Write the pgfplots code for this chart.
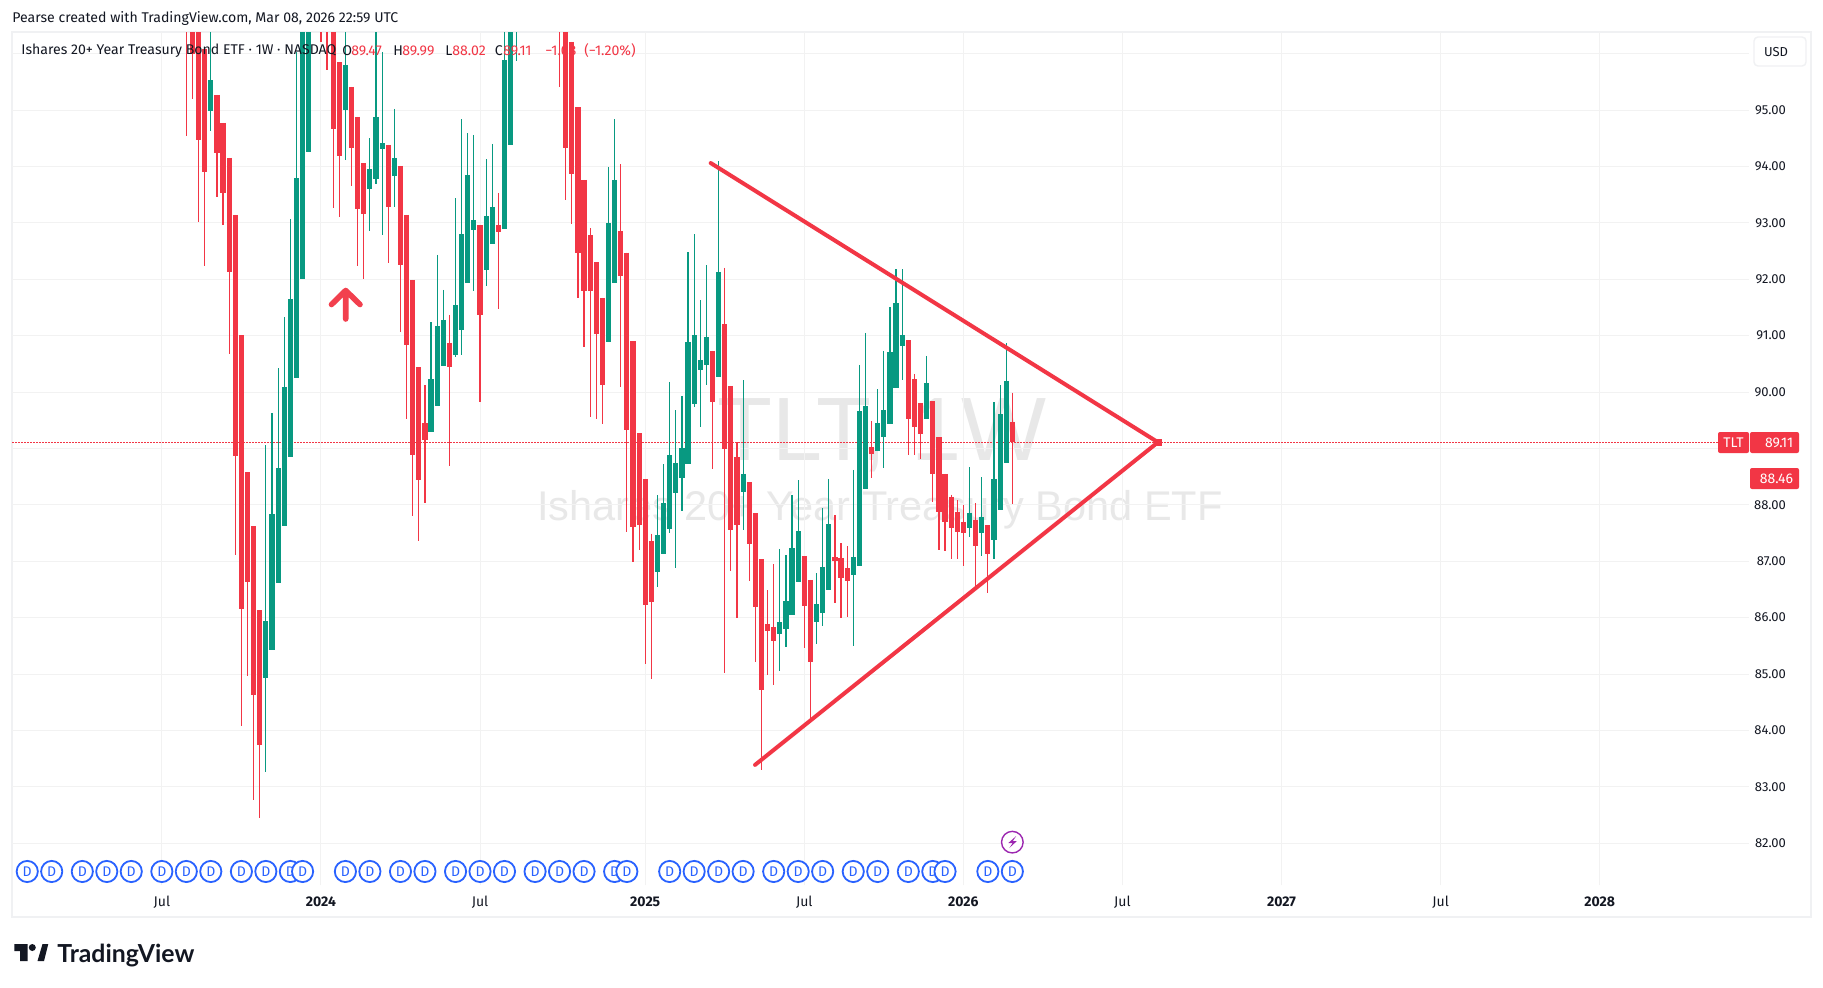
\documentclass[border=0pt]{standalone}
\usepackage{pgfplots}
\usepackage{pgfplotstable}
\pgfplotsset{compat=1.18}
\usepackage{fontspec}
\setmainfont{Fira Sans}
\newfontfamily\wmfont{Liberation Sans}
\newfontfamily\logofont{Lato}
\definecolor{tvred}{HTML}{F23645}
\definecolor{tvgreen}{HTML}{089981}
\definecolor{tvgrid}{HTML}{F2F2F2}
\definecolor{tvtext}{HTML}{131722}
\definecolor{tvblue}{HTML}{2962FF}
\definecolor{tvpurple}{HTML}{9C27B0}
\definecolor{tvwm}{HTML}{E8E8E8}
\definecolor{tvborder}{HTML}{F0F1F3}

% columns: week index, body top, body bottom, high, low
\pgfplotstableread{
i top bot high low
0 97.2 96.6 98 94.54
1 97.2 96.00 98 95.20
2 97.2 94.47 97.5 93.01
3 96.09 93.90 96.09 92.24
5 95.27 94.24 95.27 93.46
6 94.77 93.53 94.77 92.96
7 94.15 92.13 94.15 90.68
8 93.14 88.87 93.14 87.11
9 91.01 86.15 91.01 84.08
10 88.58 86.63 88.58 84.97
11 87.62 84.63 87.62 82.77
12 86.13 83.74 86.13 82.45
22 97.5 97 98 96.21
23 97.5 97 98 95.71
24 97.5 94.66 98 93.26
25 95.85 94.18 95.85 93.11
27 95.41 94.33 95.41 93.65
28 94.88 93.24 94.88 92.24
29 94.06 93.16 94.06 92.00
33 94.38 93.28 94.38 92.29
35 94.01 92.25 94.01 91.06
36 93.14 90.83 93.14 89.52
37 91.99 88.88 91.99 87.80
38 90.44 88.44 90.44 87.36
39 89.45 89.15 90.12 88.03
43 90.87 90.44 91.37 88.69
48 92.96 91.36 92.96 89.82
51 92.96 92.84 93.53 91.47
61 97.5 97 98 95.40
62 97.5 94.33 98 93.40
63 96.21 93.87 96.21 92.98
64 95.05 92.47 95.05 91.67
65 93.76 91.79 93.76 90.80
66 92.78 91.79 92.90 89.56
67 92.30 91.03 92.30 89.52
68 91.67 90.12 91.67 89.43
71 92.85 92.06 94.04 90.09
72 92.47 89.33 92.47 87.52
73 90.90 87.61 90.90 86.99
74 89.27 87.64 89.27 87.20
75 88.46 86.22 88.46 85.18
76 87.36 86.28 87.49 84.91
86 90.73 89.82 90.73 88.63
88 91.20 88.99 92.20 85.02
89 90.11 87.55 90.11 86.83
90 88.85 87.64 89.11 85.99
92 88.40 87.30 88.40 86.65
93 87.85 86.19 87.85 85.21
94 87.04 84.72 87.04 83.30
95 85.89 85.76 86.49 84.98
96 85.83 85.59 86.95 84.80
101 87.09 86.20 87.09 85.46
102 86.67 85.21 86.67 84.18
106 87.07 87.00 87.82 86.26
107 87.06 86.70 87.32 85.99
108 86.88 86.65 87.27 86.01
112 89.02 88.90 89.49 88.47
118 90.92 89.52 90.92 88.88
119 90.23 89.38 90.32 88.88
120 89.81 89.26 89.81 88.81
122 89.84 88.55 89.84 88.05
123 89.20 87.87 89.20 87.20
124 88.55 87.70 88.55 87.18
125 88.14 87.59 88.18 87.04
126 87.87 87.52 88.09 87.04
127 87.70 87.50 88.00 86.92
129 87.73 87.27 88.03 86.54
131 87.64 87.13 87.64 86.44
135 89.47 89.11 89.99 88.02
}\redbars

\pgfplotstableread{
i top bot high low
4 95.53 94.99 97 94.63
13 85.94 84.93 89.06 83.26
14 87.84 85.43 89.63 85.43
15 88.65 86.61 90.42 86.61
16 90.09 87.62 91.33 87.62
17 91.65 88.85 93.07 88.85
18 93.79 90.25 96.03 90.25
19 97.5 92.00 98 92.00
20 97.5 94.25 98 94.25
26 95.80 95.00 97 94.11
30 93.95 93.60 94.50 92.86
31 94.88 93.78 97 93.69
32 94.41 94.31 96.03 92.78
34 94.15 93.83 95.02 93.28
40 90.23 89.29 91.24 89.29
41 91.17 89.75 92.43 89.75
42 91.28 90.46 91.81 90.46
44 91.54 90.66 93.44 90.62
45 92.80 91.10 94.84 90.66
46 93.85 91.93 94.59 91.93
47 93.05 92.87 94.56 91.79
49 93.12 92.16 94.13 91.88
50 93.28 92.62 94.40 92.62
52 95.89 92.89 97 92.89
53 97.5 94.38 98 94.38
54 97.5 97 98 95.87
69 92.99 90.89 93.99 90.89
70 93.76 91.93 94.84 91.93
77 87.46 86.81 88.17 86.54
78 88.03 87.13 88.72 87.13
79 88.88 87.57 90.18 87.50
80 88.74 88.21 89.68 86.88
81 89.01 88.47 89.93 87.89
82 90.89 88.72 92.48 88.72
83 91.01 89.79 92.80 89.73
84 90.57 90.39 91.63 89.38
85 90.98 90.48 92.25 90.12
87 92.13 90.27 94.10 90.27
91 88.55 88.23 90.21 87.55
97 85.92 85.71 87.22 85.05
98 86.29 85.80 87.11 85.48
99 87.23 86.05 88.17 86.05
100 87.53 86.63 88.44 86.63
103 86.24 85.92 86.79 85.53
104 86.90 86.08 87.94 85.85
105 87.66 86.49 88.46 86.49
109 87.07 86.76 88.62 85.50
110 89.66 86.91 90.48 86.91
111 89.75 88.28 91.05 88.28
113 89.45 88.95 90.05 88.95
114 89.68 89.20 90.73 88.65
115 90.71 89.43 91.51 89.43
116 91.58 90.07 92.18 90.07
117 91.01 90.82 92.18 90.21
121 90.16 89.52 90.64 89.52
128 87.86 87.59 88.67 87.43
130 87.78 87.50 88.49 87.09
132 88.46 87.38 89.82 87.04
133 89.61 87.91 90.12 87.91
134 90.20 88.74 90.87 88.74
}\greenbars

\pgfplotstableread{
i p
-26 81.5
-22 81.5
-17 81.5
-13 81.5
-9 81.5
-4 81.5
0 81.5
4 81.5
9 81.5
13 81.5
17 81.5
19 81.5
26 81.5
30 81.5
35 81.5
39 81.5
44 81.5
48 81.5
52 81.5
57 81.5
61 81.5
65 81.5
70 81.5
72 81.5
79 81.5
83 81.5
87 81.5
91 81.5
96 81.5
100 81.5
104 81.5
109 81.5
113 81.5
118 81.5
122 81.5
124 81.5
131 81.5
135 81.5
}\divs

\pgfplotsset{
  wick/.style={draw=none, no markers, forget plot,
    error bars/.cd, y dir=both, y explicit, error mark=none,
    error bar style={solid, draw=#1, line width=0.6pt}},
  body/.style={draw=none, no markers, forget plot,
    error bars/.cd, y dir=both, y explicit, error mark=none,
    error bar style={solid, draw=#1, line width=2.6pt}},
}
\tikzset{px/.style={x=0.5pt,y=-0.5pt}}
\begin{document}
\begin{tikzpicture}
\path[use as bounding box, fill=white] (0pt,0pt) rectangle (911.5pt,-493.5pt);
\begin{scope}[px]
  \draw[tvborder, line width=1pt] (12,32) rectangle (1811,917);
  \node[text=tvwm, font=\wmfont\fontsize{45pt}{50pt}\selectfont, anchor=center] at (882,435) {TLT, 1W};
  \node[text=tvwm, font=\wmfont\fontsize{20.75pt}{24pt}\selectfont, anchor=center] at (880,510) {Ishares 20+ Year Treasury Bond ETF};
\end{scope}
\begin{axis}[
  at={(6pt,-442.5pt)}, anchor=south west,
  scale only axis, width=868.5pt, height=426.5pt,
  xmin=-28.49, xmax=255.4, ymin=81.26, ymax=96.383,
  axis line style={draw=none},
  major tick length=0pt,
  grid=major,
  grid style={tvgrid, line width=0.5pt},
  xtick={-4,22,48,75,101,127,153,179,205,231},
  xticklabels={Jul,\textbf{2024},Jul,\textbf{2025},Jul,\textbf{2026},Jul,\textbf{2027},Jul,\textbf{2028}},
  xticklabel style={font=\fontsize{7pt}{8pt}\selectfont, text=tvtext, anchor=center, yshift=-8.5pt},
  ytick={82,83,84,85,86,87,88,89,90,91,92,93,94,95,96},
  yticklabels={82.00,83.00,84.00,85.00,86.00,87.00,88.00,{},90.00,91.00,92.00,93.00,94.00,95.00,{}},
  yticklabel pos=right,
  yticklabel style={font=\fontsize{6.5pt}{7pt}\selectfont, text=tvtext, anchor=east, xshift=22pt},
  clip=true,
]
\addplot[tvred, line width=0.5pt, dash pattern=on 1pt off 0.5pt, forget plot] coordinates {(-28.49,89.11) (250.3,89.11)};
\addplot[wick=tvgreen] table[x=i, y=high, y error plus expr=0, y error minus expr=\thisrow{high}-\thisrow{low}] {\greenbars};
\addplot[body=tvgreen] table[x=i, y=top, y error plus expr=0, y error minus expr=\thisrow{top}-\thisrow{bot}] {\greenbars};
\addplot[wick=tvred] table[x=i, y=high, y error plus expr=0, y error minus expr=\thisrow{high}-\thisrow{low}] {\redbars};
\addplot[body=tvred] table[x=i, y=top, y error plus expr=0, y error minus expr=\thisrow{top}-\thisrow{bot}] {\redbars};
% trend lines
\addplot[tvred, line width=2pt, line cap=round, forget plot] coordinates {(85.7,94.06) (158.8,89.11) (92.95,83.39)};
\addplot[only marks, mark=square*, mark size=1.6pt, color=tvred, forget plot] coordinates {(158.8,89.11)};
% dividends
\addplot[only marks, mark=*, mark size=5.3pt,
  mark options={fill=white, draw=tvblue, line width=0.9pt},
  nodes near coords={D}, nodes near coords align={anchor=center},
  every node near coord/.append style={font=\fontsize{7pt}{8pt}\selectfont, text=tvblue, inner sep=0pt},
  forget plot] table[x=i, y=p] {\divs};
% earnings-type event
\addplot[only marks, mark=*, mark size=5.4pt,
  mark options={fill=white, draw=tvpurple, line width=0.7pt}, forget plot] coordinates {(135,82.02)};
\end{axis}
\begin{scope}[px]
  % bolt
  \fill[tvpurple] (1016,836.2) -- (1008.3,843) -- (1012.7,843) -- (1009.3,848) -- (1016.7,841.2) -- (1012.7,841.2) -- cycle;
  % arrow
  \draw[tvred, opacity=0.95, line width=2.8pt, line cap=round, line join=round] (331.5,304.5) -- (345.7,290.5) -- (360,304.5) (345.7,290.5) -- (345.7,319);
  % header text
  \node[anchor=west, inner sep=0pt, text=tvtext, font=\fontsize{7.05pt}{8pt}\selectfont] at (12,18) {Pearse created with TradingView.com, Mar 08, 2026 22:59 UTC};
  \node[anchor=west, inner sep=0pt, text=tvtext, font=\fontsize{7.05pt}{8pt}\selectfont] at (21,50.5) {Ishares 20+ Year Treasury Bond ETF · 1W · NASDAQ};
  \foreach \xx/\tt/\cc in {342/O/tvtext,351/89.47/tvred,393/H/tvtext,402/89.99/tvred,445/L/tvtext,452/88.02/tvred,494.5/C/tvtext,503/89.11/tvred,545/−1.08/tvred,584/(−1.20\%)/tvred}
    \node[anchor=west, inner sep=0pt, text=\cc, font=\fontsize{7.05pt}{8pt}\selectfont] at (\xx,50.5) {\tt};
  % USD box
  \draw[tvborder, fill=white, line width=0.7pt, rounded corners=2pt] (1754,37) rectangle (1806,66);
  \node[text=tvtext, font=\fontsize{6.5pt}{7pt}\selectfont] at (1776,52) {USD};
  % price labels
  \fill[tvred, rounded corners=1pt] (1718,432) rectangle (1749,453);
  \fill[tvred, rounded corners=1pt] (1750,432) rectangle (1799,453);
  \fill[tvred, rounded corners=1pt] (1750,468) rectangle (1799,489);
  \node[text=white, font=\fontsize{7pt}{8pt}\selectfont] at (1733.5,442.5) {TLT};
  \node[text=white, font=\fontsize{7pt}{8pt}\selectfont, anchor=east, inner sep=0pt] at (1793.5,442.5) {89.11};
  \node[text=white, font=\fontsize{7pt}{8pt}\selectfont, anchor=east, inner sep=0pt] at (1793.5,478.5) {88.46};
  % logo
  \fill[tvtext] (14.3,944) -- (27.7,944) -- (27.7,961) -- (20,961) -- (20,951) -- (14.3,951) -- cycle;
  \fill[tvtext] (32.3,947.5) circle[radius=3.5];
  \fill[tvtext] (37.5,961) -- (42.5,944) -- (48.3,944) -- (44,961) -- cycle;
  \node[anchor=west, inner sep=0pt, text=tvtext, font=\logofont\bfseries\fontsize{12.4pt}{14pt}\selectfont] at (57,955) {TradingView};
\end{scope}
\end{tikzpicture}
\end{document}
